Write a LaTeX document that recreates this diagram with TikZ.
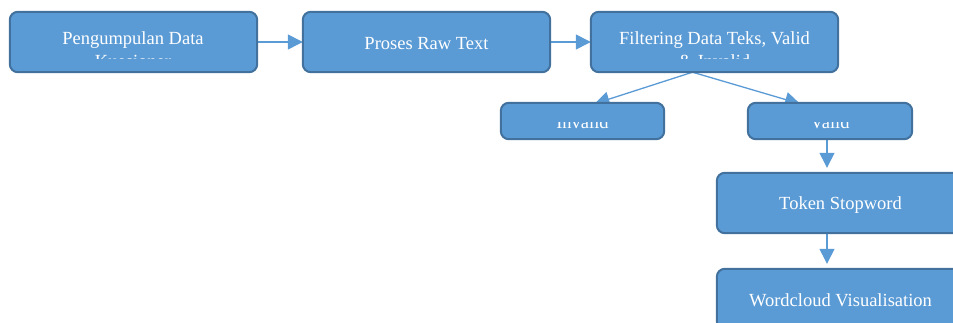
\documentclass[tikz,border=0pt]{standalone}
\usepackage{fontspec}
\setmainfont{Liberation Serif}
\usetikzlibrary{arrows.meta}
\definecolor{boxfill}{HTML}{5B9BD5}
\definecolor{boxline}{HTML}{41719C}
\definecolor{arrowc}{HTML}{5B9BD5}
\tikzset{
  flowbox/.style={draw=boxline, fill=boxfill, line width=2pt, rounded corners=8pt, inner sep=0pt},
  boxtext/.style={text=white, font=\fontsize{18.5}{23}\selectfont, align=center, inner sep=0pt, anchor=base},
  flowarrow/.style={draw=arrowc, line width=1.3pt, -{Triangle[length=15pt,width=15pt]}}
}
\begin{document}
\begin{tikzpicture}[x=1pt,y=-1pt]
\useasboundingbox (0,0) rectangle (953,323);
\path
 (133.5,42) coordinate (c1)
 (426.5,42) coordinate (c2)
 (714.5,42) coordinate (c3)
 (582.5,121) coordinate (c4)
 (830,121) coordinate (c5)
 (840.5,203) coordinate (c6)
 (840.5,299) coordinate (c7);
\node[minimum width=247pt, minimum height=60pt, inner sep=0pt] (b1) at (c1) {};
\node[minimum width=247pt, minimum height=60pt, inner sep=0pt] (b2) at (c2) {};
\node[minimum width=247pt, minimum height=60pt, inner sep=0pt] (b3) at (c3) {};
\node[minimum width=163pt, minimum height=36pt, inner sep=0pt] (b4) at (c4) {};
\node[minimum width=164pt, minimum height=36pt, inner sep=0pt] (b5) at (c5) {};
\node[minimum width=247pt, minimum height=60pt, inner sep=0pt] (b6) at (c6) {};
\node[minimum width=247pt, minimum height=60pt, inner sep=0pt] (b7) at (c7) {};
\coordinate (split) at ([xshift=-22pt]b3.south);
% connectors drawn first (under the boxes)
\draw[flowarrow] (b1.east) -- (b2.west);
\draw[flowarrow] (b2.east) -- (b3.west);
\draw[flowarrow] (split) -- ([xshift=12pt,yshift=-1pt]b4.north);
\draw[flowarrow] (split) -- ([xshift=-30pt,yshift=-1pt]b5.north);
\draw[flowarrow] ([xshift=-3pt]b5.south) -- ([xshift=-13.5pt,yshift=5pt]b6.north);
\draw[flowarrow] ([xshift=-13.5pt]b6.south) -- ([xshift=-13.5pt,yshift=5pt]b7.north);
% box shapes
\foreach \b in {b1,b2,b3,b4,b5,b6,b7}{
  \path[flowbox] (\b.north west) rectangle (\b.south east);
}
% texts, clipped as in the picture
\begin{scope}
\clip (b1.north west) rectangle ([yshift=14pt]b1.south east);
\node[boxtext] (t1) at (133,68) {Pengumpulan Data\\Kuesioner};
\end{scope}
\node[boxtext] (t2) at (426.5,50) {Proses Raw Text};
\begin{scope}
\clip (b3.north west) rectangle ([yshift=14pt]b3.south east);
\node[boxtext] (t3) at (714.5,68) {Filtering Data Teks, Valid\\\& Invalid};
\end{scope}
\begin{scope}
\clip (470,122.5) rectangle (953,140);
\node[boxtext] (t4) at (582.5,128.5) {Invalid};
\node[boxtext] (t5) at (830,128.5) {Valid};
\end{scope}
\node[boxtext] (t6) at (840.5,210) {Token Stopword};
\node[boxtext] (t7) at (840.5,306.5) {Wordcloud Visualisation};
\end{tikzpicture}
\end{document}
